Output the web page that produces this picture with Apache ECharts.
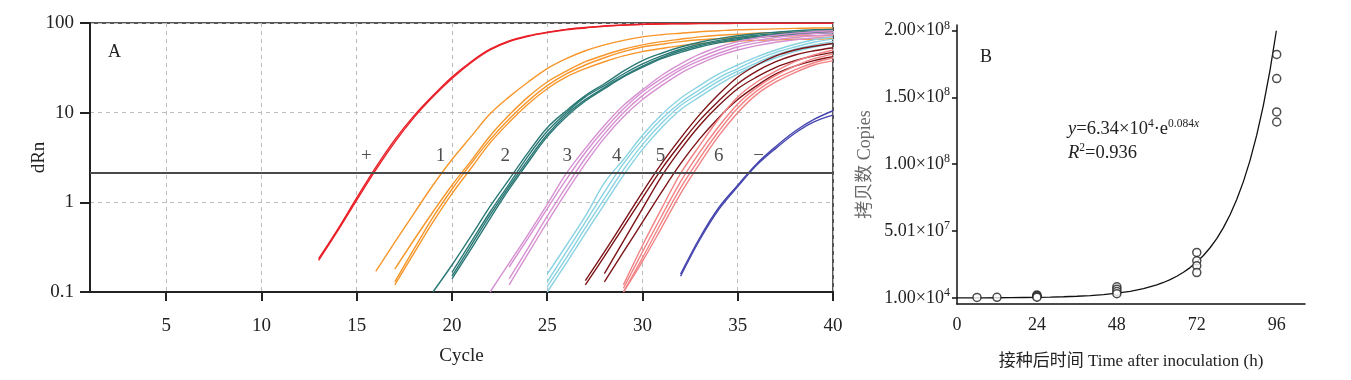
<!DOCTYPE html>
<html><head><meta charset="utf-8">
<script src="https://cdn.jsdelivr.net/npm/echarts@6/dist/echarts.min.js"></script>
<style>html,body{margin:0;padding:0;background:#fff}#c{width:1351px;height:380px}</style>
</head><body><div id="c"></div>
<script>
// ---------- Panel A data: amplification curves (dRn per cycle) ----------
const xTicksA = [5, 10, 15, 20, 25, 30, 35, 40];
const threshold = 2.16;
const curveLabels = ['+', '1', '2', '3', '4', '5', '6', '−'];
const labelCycles = [15.5, 19.4, 22.8, 26.05, 28.65, 30.95, 34.0, 36.1];
const labelLevel = 3.3;

const posStart = [13, 13];
const posCurves = [
  [0.235, 0.50, 1.12, 2.45, 5.0, 9.2, 15.5, 25, 37, 51, 63, 72, 79, 85, 89, 93, 95, 97, 98, 98.5, 99, 99, 99.5, 99.5, 99.5, 99.5, 99.5, 99.5],
  [0.225, 0.48, 1.06, 2.3, 4.7, 8.8, 15, 24, 36, 50, 62, 71, 78, 84, 88, 92, 94.5, 96.5, 97.5, 98, 98.5, 98.5, 99, 99, 99, 99, 99, 99]
];
const d1Start = [16, 17, 17, 17];
const d1Curves = [
  [0.17, 0.36, 0.75, 1.55, 3.0, 5.4, 9.7, 15, 22, 31, 40, 49, 57, 64, 70, 74, 77, 80, 82, 84, 85, 86, 87, 88, 88],
  [0.18, 0.38, 0.78, 1.55, 2.9, 5.5, 9.4, 15, 22, 29, 37, 44, 51, 57, 62, 66, 70, 73, 75, 77, 78, 79, 80, 81],
  [0.13, 0.3, 0.68, 1.4, 2.7, 5.0, 8.5, 13.5, 20, 27, 34, 41, 48, 54, 58, 62, 65, 67, 69, 70, 71, 72, 72, 73],
  [0.12, 0.27, 0.6, 1.25, 2.4, 4.6, 7.8, 12.5, 18.5, 25, 31, 37, 43, 48, 52, 56, 59, 61, 63, 64, 65, 66, 66, 67]
];
const d2Start = [19, 20, 20, 20];
const d2Curves = [
  [0.1, 0.2, 0.42, 0.9, 1.8, 3.6, 6.8, 10.5, 15.5, 21, 29, 38, 46, 54, 61, 67, 72, 76, 79, 82, 84, 85],
  [0.166, 0.36, 0.78, 1.6, 3.3, 6.2, 10, 15, 20, 27, 35, 43, 51, 58, 64, 69, 73, 76, 79, 81, 82],
  [0.15, 0.33, 0.72, 1.5, 3.0, 5.7, 9.5, 14, 19, 25.5, 33, 41, 49, 56, 62, 67, 71, 74, 76, 78, 79],
  [0.14, 0.3, 0.66, 1.4, 2.8, 5.4, 9, 13.5, 18.5, 25, 32, 40, 47, 54, 60, 65, 69, 72, 75, 77, 78]
];
const d3Start = [22, 23, 23, 23];
const d3Curves = [
  [0.1, 0.21, 0.44, 0.95, 2.1, 4.0, 7.2, 12, 18, 26, 35, 45, 54, 62, 68, 73, 77, 80, 82],
  [0.19, 0.4, 0.85, 1.8, 3.6, 6.5, 11, 17, 24, 32, 41, 50, 58, 64, 69, 73, 76, 78],
  [0.14, 0.31, 0.7, 1.5, 3.1, 5.8, 10, 15.5, 22, 30, 38, 46, 54, 60, 65, 69, 72, 74],
  [0.12, 0.27, 0.6, 1.3, 2.7, 5.2, 9, 14, 20, 27.5, 35, 43, 50, 56, 61, 65, 68, 70]
];
const d4Start = [25, 25, 25, 25];
const d4Curves = [
  [0.158, 0.33, 0.7, 1.65, 3.0, 5.6, 9.5, 14.5, 20, 27, 34, 42, 50, 58, 65, 70],
  [0.13, 0.28, 0.6, 1.3, 2.7, 5.0, 8.5, 13, 18, 24.5, 31, 39, 47, 54, 61, 66],
  [0.115, 0.24, 0.52, 1.1, 2.3, 4.4, 7.6, 12, 16.5, 22.5, 29, 36, 44, 51, 57, 62],
  [0.1, 0.21, 0.45, 0.95, 2.0, 3.9, 6.8, 10.8, 15, 20.5, 27, 34, 41, 48, 54, 59]
];
const d5Start = [27, 27, 28, 28];
const d5Curves = [
  [0.134, 0.28, 0.6, 1.3, 2.7, 5.2, 9.5, 16, 25, 34, 43, 50, 55, 59],
  [0.12, 0.25, 0.53, 1.12, 2.35, 4.5, 8.2, 13.5, 21, 29, 37, 44, 49, 53],
  [0.16, 0.37, 0.85, 1.95, 3.9, 7.2, 12, 18.5, 25, 32, 38, 43, 47],
  [0.13, 0.28, 0.6, 1.3, 2.7, 5.1, 8.8, 14, 20, 27, 33, 38, 42]
];
const d6Start = [29, 29, 29, 29];
const d6Curves = [
  [0.12, 0.33, 0.85, 2.1, 4.3, 8.5, 15, 22, 29, 37, 44, 50],
  [0.11, 0.28, 0.7, 1.7, 3.6, 7, 12.5, 19, 26, 33, 40, 45],
  [0.1, 0.24, 0.6, 1.45, 3.1, 6.2, 11.3, 17.5, 24, 30, 36, 41],
  [0.1, 0.22, 0.52, 1.25, 2.7, 5.5, 10, 16, 22, 28, 34, 38]
];
const negStart = [32, 32];
const negCurves = [
  [0.158, 0.40, 0.87, 1.55, 2.7, 4.2, 6.2, 8.4, 10.5],
  [0.15, 0.38, 0.83, 1.5, 2.6, 4.0, 5.9, 7.9, 9.4]
];

// ---------- Panel B data ----------
const bTimes  = [6, 12, 24, 24, 24, 24, 48, 48, 48, 48, 72, 72, 72, 72, 96, 96, 96, 96];
const bCopies = [4e5, 5e5, 2.3e6, 1.6e6, 1.0e6, 0.6e6, 8.4e6, 6.6e6, 4.8e6, 3.2e6,
                 3.4e7, 2.78e7, 2.4e7, 1.9e7, 1.82e8, 1.64e8, 1.39e8, 1.315e8];
const fitX = [0, 4, 8, 12, 16, 20, 24, 28, 32, 36, 40, 44, 48, 52, 56, 60, 62, 64, 66, 68, 70,
              72, 74, 76, 78, 80, 82, 84, 86, 88, 90, 92, 94, 95.9];
const fitY = [63400, 88700, 124100, 173700, 243100, 340200, 476000, 666100, 932200, 1304000,
              1825000, 2554000, 3573000, 5001000, 7000000, 9795000, 11580000, 13710000, 16210000,
              19180000, 22690000, 26840000, 31750000, 37540000, 44410000, 52540000, 62160000,
              73520000, 86970000, 102870000, 121700000, 143960000, 170300000, 199700000];
const xTicksB = [0, 24, 48, 72, 96];
const yTicksB = [1e4, 5.01e7, 1.0e8, 1.5e8, 2.0e8];
const yTickMant = ['1.00', '5.01', '1.00', '1.50', '2.00'];
const yTickExp = ['4', '7', '8', '8', '8'];

// ---------- styling ----------
const SERIF = '"Liberation Serif","Times New Roman",serif';
const CJK = '"Liberation Serif","Noto Sans CJK SC",serif';
const groupColors = ['#ea1f27', '#f7962a', '#2a7976', '#d690d2', '#88d2e2', '#7d1518', '#f28284', '#4646b0'];
const groupStarts = [posStart, d1Start, d2Start, d3Start, d4Start, d5Start, d6Start, negStart];
const groupCurves = [posCurves, d1Curves, d2Curves, d3Curves, d4Curves, d5Curves, d6Curves, negCurves];

const series = [];
groupCurves.forEach((curves, g) => {
  curves.forEach((vals, k) => {
    series.push({
      type: 'line', xAxisIndex: 0, yAxisIndex: 0,
      data: vals.map((v, i) => [groupStarts[g][k] + i, v]),
      showSymbol: false, smooth: 0.35, silent: true,
      lineStyle: { color: groupColors[g], width: 1.4 }, z: 3
    });
  });
});
series[0].markLine = {
  symbol: 'none', silent: true, label: { show: false },
  lineStyle: { color: '#4a4a4a', width: 2.2, type: 'solid' },
  data: [{ yAxis: threshold }], z: 5
};
series.push({
  type: 'scatter', xAxisIndex: 0, yAxisIndex: 0, symbolSize: 0, silent: true,
  data: labelCycles.map((c, i) => ({ value: [c, labelLevel], name: curveLabels[i] })),
  label: { show: true, position: 'inside', formatter: p => p.name, fontFamily: SERIF, fontSize: 19, color: '#222' },
  z: 6
});
series.push({
  type: 'line', xAxisIndex: 1, yAxisIndex: 1, silent: true,
  data: fitX.map((x, i) => [x, fitY[i]]),
  showSymbol: false, smooth: false,
  lineStyle: { color: '#111', width: 1.3 }, z: 2
});
series.push({
  type: 'scatter', xAxisIndex: 1, yAxisIndex: 1, silent: true,
  data: bTimes.map((t, i) => [t, bCopies[i]]),
  symbol: 'circle', symbolSize: 8,
  itemStyle: { color: '#fff', borderColor: '#222', borderWidth: 1.5 }, z: 4
});

const chart = echarts.init(document.getElementById('c'), null, { renderer: 'canvas' });
chart.setOption({
  animation: false,
  backgroundColor: '#fff',
  grid: [
    { left: 90, top: 23, width: 743, height: 269, show: true, borderColor: '#555', borderWidth: 2, backgroundColor: 'transparent' },
    { left: 957, top: 25, width: 348, height: 279 }
  ],
  xAxis: [
    {
      gridIndex: 0, type: 'value', min: 1, max: 40,
      axisLine: { show: true, onZero: false, lineStyle: { color: '#222', width: 2 } },
      axisTick: { show: true, length: 9, customValues: xTicksA, lineStyle: { color: '#222', width: 2 } },
      axisLabel: { customValues: xTicksA, margin: 25, fontFamily: SERIF, fontSize: 19, color: '#222' },
      splitLine: { show: true, lineStyle: { color: '#bdbdbd', width: 1, type: [4, 4] } },
      name: 'Cycle', nameLocation: 'middle', nameGap: 55,
      nameTextStyle: { fontFamily: SERIF, fontSize: 19, color: '#222' }
    },
    {
      gridIndex: 1, type: 'value', min: 0, max: 104.5,
      axisLine: { show: true, onZero: false, lineStyle: { color: '#111', width: 1.5 } },
      axisTick: { show: false, customValues: xTicksB },
      axisLabel: { customValues: xTicksB, margin: 12, fontFamily: SERIF, fontSize: 18, color: '#222' },
      splitLine: { show: false },
      name: '接种后时间 Time after inoculation (h)', nameLocation: 'middle', nameGap: 49,
      nameTextStyle: { fontFamily: CJK, fontSize: 17, color: '#222' }
    }
  ],
  yAxis: [
    {
      gridIndex: 0, type: 'log', logBase: 10, min: 0.1, max: 100,
      axisLine: { show: true, onZero: false, lineStyle: { color: '#222', width: 2 } },
      axisTick: { show: true, length: 10, lineStyle: { color: '#222', width: 2 } },
      axisLabel: { margin: 16, fontFamily: SERIF, fontSize: 19, color: '#222', formatter: v => String(+(+v).toPrecision(3)) },
      splitLine: { show: true, lineStyle: { color: '#bdbdbd', width: 1, type: [4, 4] } },
      minorTick: { show: false },
      name: 'dRn', nameLocation: 'middle', nameGap: 41, nameRotate: 90, nameMoveOverlap: false,
      nameTextStyle: { fontFamily: SERIF, fontSize: 19, color: '#222' }
    },
    {
      gridIndex: 1, type: 'value', min: -4.5e6, max: 2.04e8,
      axisLine: { show: true, onZero: false, lineStyle: { color: '#111', width: 1.5 } },
      axisTick: { show: true, length: 5, customValues: yTicksB, lineStyle: { color: '#111', width: 1.5 } },
      axisLabel: {
        customValues: yTicksB, margin: 7,
        formatter: v => {
          let k = 0, best = Infinity;
          yTicksB.forEach((t, i) => { const d = Math.abs(t - v); if (d < best) { best = d; k = i; } });
          return '{b|' + yTickMant[k] + '×10}{s|' + yTickExp[k] + '}';
        },
        rich: {
          b: { fontFamily: SERIF, fontSize: 18, color: '#222' },
          s: { fontFamily: SERIF, fontSize: 12, color: '#222', padding: [0, 0, 10, 0] }
        }
      },
      splitLine: { show: false },
      name: '拷贝数 Copies', nameLocation: 'middle', nameGap: 83, nameRotate: 90,
      nameTextStyle: { fontFamily: CJK, fontSize: 18, color: '#6a6a6a' }
    }
  ],
  graphic: [
    { type: 'text', left: 108, top: 43, silent: true, style: { text: 'A', font: '18px ' + SERIF, fill: '#222' } },
    { type: 'text', left: 980, top: 48, silent: true, style: { text: 'B', font: '18px ' + SERIF, fill: '#222' } },
    {
      type: 'text', left: 1068, top: 118, silent: true,
      style: {
        text: '{i|y}{n|=6.34×10}{s|4}{n|·e}{s|0.084}{si|x}\n{i|R}{s|2}{n|=0.936}',
        fill: '#222',
        rich: {
          n: { fontFamily: SERIF, fontSize: 18.5, fill: '#222', lineHeight: 24 },
          i: { fontFamily: SERIF, fontSize: 18.5, fontStyle: 'italic', fill: '#222', lineHeight: 24 },
          s: { fontFamily: SERIF, fontSize: 11.5, fill: '#222', padding: [0, 0, 10, 0], lineHeight: 24 },
          si: { fontFamily: SERIF, fontSize: 11.5, fontStyle: 'italic', fill: '#222', padding: [0, 0, 10, 0], lineHeight: 24 }
        }
      }
    }
  ],
  series: series
});
</script></body></html>
